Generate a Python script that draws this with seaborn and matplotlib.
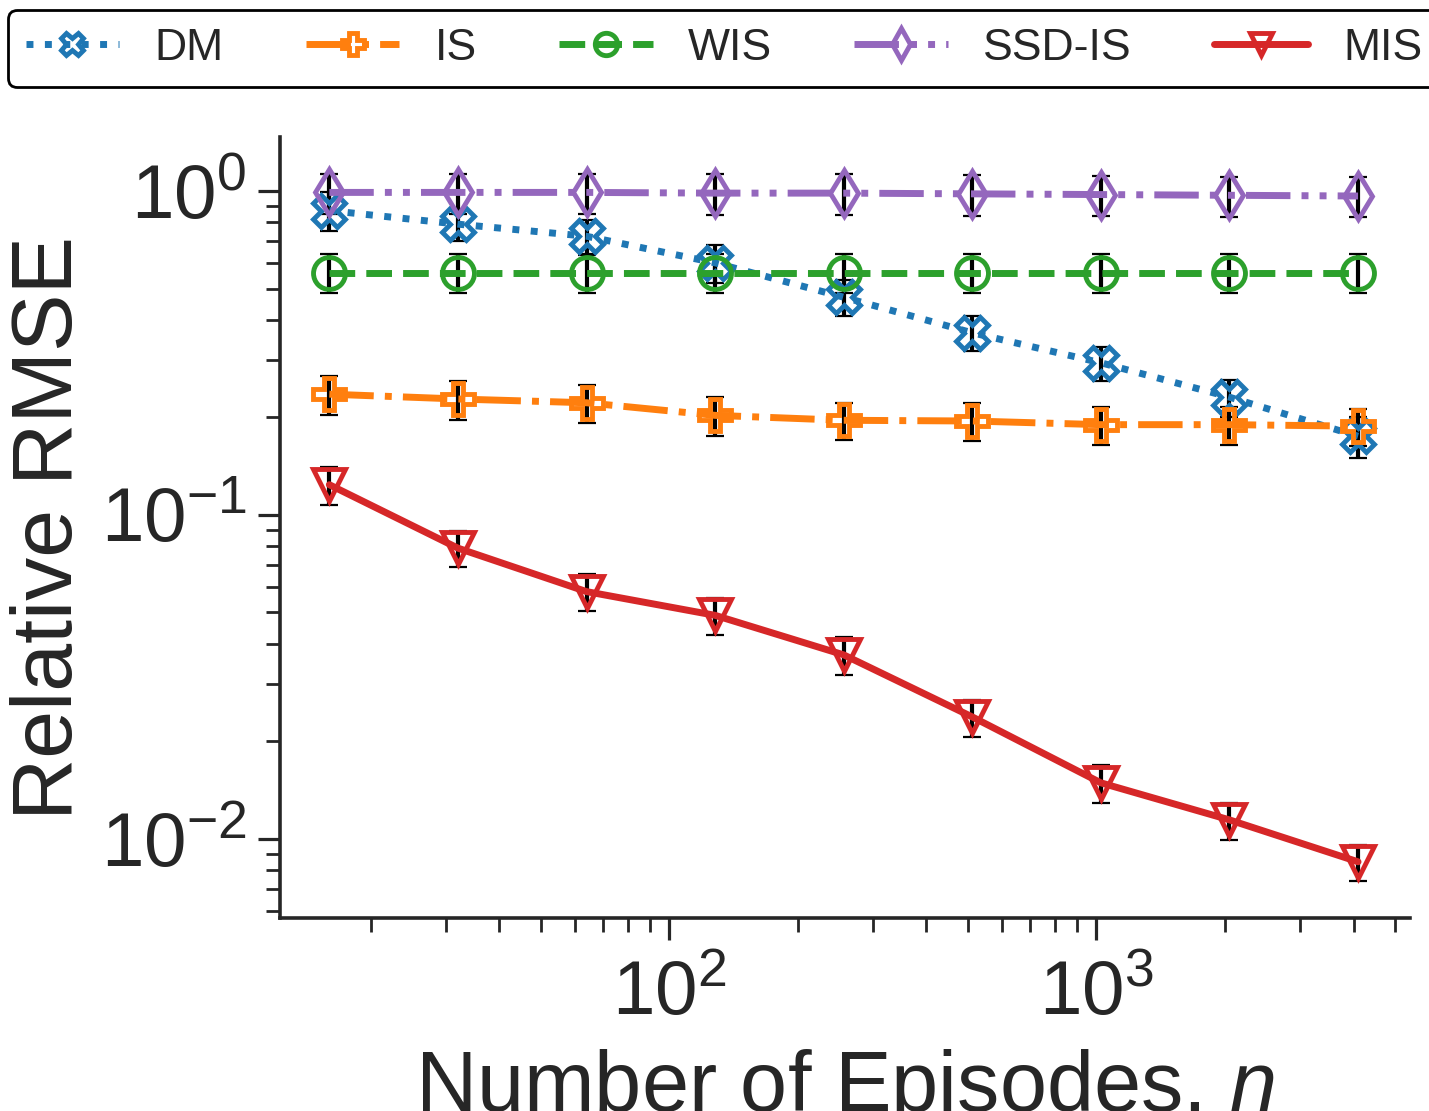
import matplotlib
matplotlib.use("Agg")
import matplotlib.pyplot as plt
import seaborn as sns

# ── data ──────────────────────────────────────────────────────────────────────
EPISODES = [16, 32, 64, 128, 256, 512, 1024, 2048, 4096]

DM_RMSE = [0.87, 0.79, 0.725, 0.60, 0.47, 0.365, 0.295, 0.231, 0.175]
DM_ERR = [0.12, 0.09, 0.09, 0.08, 0.06, 0.045, 0.035, 0.030, 0.025]

IS_RMSE = [0.236, 0.228, 0.222, 0.203, 0.196, 0.195, 0.190, 0.190, 0.188]
IS_ERR = [0.033, 0.031, 0.030, 0.028, 0.026, 0.026, 0.025, 0.025, 0.025]

WIS_RMSE = [0.56, 0.56, 0.56, 0.56, 0.56, 0.56, 0.56, 0.56, 0.56]
WIS_ERR = [0.077, 0.077, 0.077, 0.077, 0.077, 0.077, 0.077, 0.077, 0.077]

SSD_RMSE = [0.99, 0.99, 0.99, 0.985, 0.985, 0.98, 0.975, 0.97, 0.965]
SSD_ERR = [0.14, 0.14, 0.14, 0.14, 0.14, 0.14, 0.14, 0.138, 0.136]

MIS_RMSE = [0.124, 0.079, 0.058, 0.049, 0.037, 0.0238, 0.0149, 0.01145, 0.0085]
MIS_ERR = [0.017, 0.010, 0.0075, 0.0065, 0.005, 0.0031, 0.002, 0.0015, 0.0011]

LABELS = ["DM", "IS", "WIS", "SSD-IS", "MIS"]

# ── styling ──────────────────────────────────────────────────────────────────
sns.set_theme(style="ticks")
plt.rcParams["font.family"] = ["Liberation Sans", "DejaVu Sans"]
plt.rcParams["mathtext.fontset"] = "custom"
plt.rcParams["mathtext.rm"] = "Liberation Sans"
plt.rcParams["mathtext.it"] = "Liberation Sans:italic"

COLORS = ["#1f77b4", "#ff7f0e", "#2ca02c", "#9467bd", "#d62728"]
MARKERS = ["X", "P", "o", "d", "v"]
LSTYLES = [":", "-.", "--", (0, (6.4, 1.6, 1, 1.6, 1, 1.6)), "-"]

fig = plt.figure(figsize=(14.29, 11.11), dpi=100)
ax = fig.add_axes([0.196, 0.1737, 0.7907, 0.703])
ax.set_xscale("log")
ax.set_yscale("log")

series = [
    (DM_RMSE, DM_ERR),
    (IS_RMSE, IS_ERR),
    (WIS_RMSE, WIS_ERR),
    (SSD_RMSE, SSD_ERR),
    (MIS_RMSE, MIS_ERR),
]

for (vals, errs), name, c, m, ls in zip(series, LABELS, COLORS, MARKERS, LSTYLES):
    ax.errorbar(EPISODES, vals, yerr=errs, fmt="none", ecolor="black",
                elinewidth=3, capsize=6.5, capthick=1.6, zorder=1.5)
    sns.lineplot(x=EPISODES, y=vals, ax=ax, color=c, linestyle=ls,
                 linewidth=5, marker=m, markersize=23,
                 markerfacecolor="none", markeredgecolor=c,
                 markeredgewidth=3.5, label=name, legend=False,
                 errorbar=None, zorder=2)

ax.set_xlim(12.27, 5420)
ax.set_ylim(0.0057, 1.468)

ax.tick_params(axis="both", which="major", length=16, width=2.3,
               labelsize=55)
ax.tick_params(axis="y", which="major", pad=8)
ax.tick_params(axis="x", which="major", pad=14)
ax.tick_params(axis="both", which="minor", length=10, width=2.0)
for side in ("left", "bottom"):
    ax.spines[side].set_linewidth(2.6)
sns.despine(ax=ax)

ax.set_xlabel("Number of Episodes, $n$", fontsize=61, labelpad=12)
ax.set_ylabel("Relative RMSE", fontsize=62, labelpad=8)

handles, labels = ax.get_legend_handles_labels()
leg = fig.legend(handles, labels, loc="upper left",
                 bbox_to_anchor=(8 / 1429, 1 - 10 / 1111, 1432 / 1429, 0),
                 mode="expand", ncol=5, fontsize=32, frameon=True,
                 fancybox=True, framealpha=1, edgecolor="black",
                 borderaxespad=0, markerscale=0.7, handlelength=2.1)
leg.get_frame().set_linewidth(2)

fig.savefig("out.png", dpi=100)
